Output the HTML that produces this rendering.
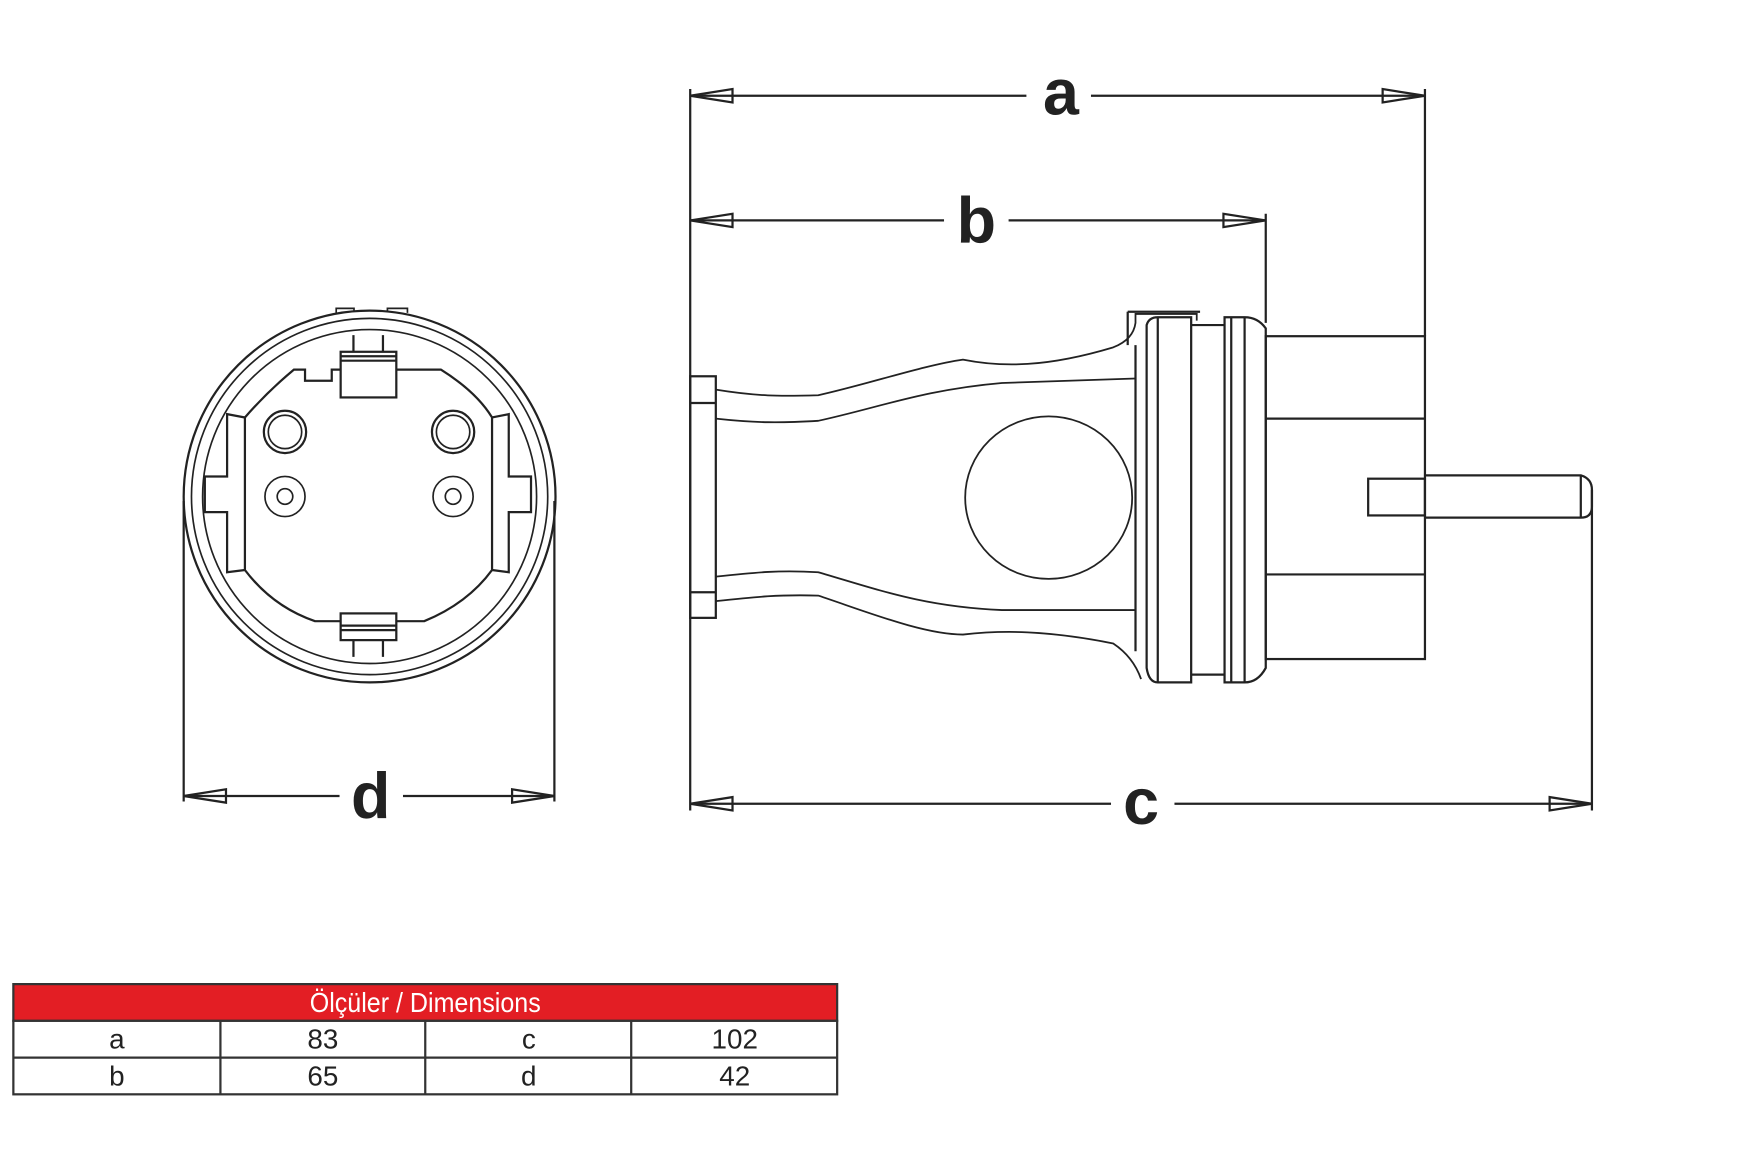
<!DOCTYPE html>
<html><head><meta charset="utf-8"><style>html,body{margin:0;padding:0;background:#fff}svg{display:block}</style></head>
<body>
<svg width="1745" height="1155" viewBox="0 0 1567.5 1037.5" preserveAspectRatio="none" xmlns="http://www.w3.org/2000/svg">
<g fill="none" stroke="#222" stroke-width="2">
<line x1="620" y1="80" x2="620" y2="728"/>
<line x1="1280" y1="80" x2="1280" y2="302"/>
<line x1="1137" y1="192" x2="1137" y2="290"/>
<line x1="1430" y1="440" x2="1430" y2="728"/>
<line x1="165" y1="450" x2="165" y2="720"/>
<line x1="498" y1="450" x2="498" y2="720"/>
<line x1="620" y1="86" x2="922" y2="86"/><line x1="980" y1="86" x2="1280" y2="86"/>
<polygon points="620,86 658,80 658,92"/><polygon points="1280,86 1242,80 1242,92"/>
<line x1="620" y1="198" x2="848" y2="198"/><line x1="906" y1="198" x2="1137" y2="198"/>
<polygon points="620,198 658,192 658,204"/><polygon points="1137,198 1099,192 1099,204"/>
<line x1="620" y1="722" x2="998" y2="722"/><line x1="1055" y1="722" x2="1430" y2="722"/>
<polygon points="620,722 658,716 658,728"/><polygon points="1430,722 1392,716 1392,728"/>
<line x1="165" y1="715" x2="305" y2="715"/><line x1="362" y1="715" x2="498" y2="715"/>
<polygon points="165,715 203,709 203,721"/><polygon points="498,715 460,709 460,721"/>

<circle cx="332" cy="446" r="167"/>
<circle cx="332" cy="446" r="160" stroke-width="1.5"/>
<circle cx="332" cy="446" r="150" stroke-width="1.5"/>
<path d="M302,281 L302,277 L318,277 L318,280 M348,280 L348,277 L366,277 L366,281" stroke-width="1.5"/>
<path d="M317.5,316 L317.5,301 M344,316 L344,301"/>
<rect x="306" y="316" width="50" height="41" fill="#fff"/>
<line x1="306" y1="320" x2="356" y2="320"/><line x1="306" y1="324" x2="356" y2="324"/>
<path d="M306,332 L298,332 L298,342 L274,342 L274,332 L264,332 Q240,352 220,375 L220,512 Q245,545 283,558 L306,558"/>
<path d="M356,332 L396,332 Q428,352 442,375 L442,512 Q420,542 381,558 L356,558"/>
<path d="M220,375 L204,372 L204,428 L184,428 L184,460 L204,460 L204,514 L220,512"/>
<path d="M442,375 L457,372 L457,428 L477,428 L477,460 L457,460 L457,514 L442,512"/>
<rect x="306" y="551" width="50" height="24" fill="#fff"/>
<line x1="306" y1="562" x2="356" y2="562"/><line x1="306" y1="566" x2="356" y2="566"/>
<path d="M317.5,575 L317.5,590 M344,575 L344,590"/>
<circle cx="256" cy="388" r="19"/><circle cx="256" cy="388" r="15" stroke-width="1.5"/>
<circle cx="407" cy="388" r="19"/><circle cx="407" cy="388" r="15" stroke-width="1.5"/>
<circle cx="256" cy="446" r="18" stroke-width="1.5"/><circle cx="256" cy="446" r="7" stroke-width="1.5"/>
<circle cx="407" cy="446" r="18" stroke-width="1.5"/><circle cx="407" cy="446" r="7" stroke-width="1.5"/>

<rect x="620" y="338" width="23" height="217"/>
<line x1="620" y1="362" x2="643" y2="362"/><line x1="620" y1="532" x2="643" y2="532"/>
<path d="M643,350 C680,356 700,356 735,355 C780,345 830,328 865,323 C900,330 940,330 1000,312 Q1018,305 1020,290 L1020,282 L1075,282 L1075,288" stroke-width="1.6"/>
<path d="M643,376 C680,380 700,380 735,378 C790,366 830,350 900,344 L1020,340" stroke-width="1.6"/>
<path d="M643,518 C680,514 700,512 735,514 C790,530 830,545 900,548 L1020,548" stroke-width="1.6"/>
<path d="M643,540 C680,536 700,534 735,535 C780,550 830,570 865,570 C900,566 940,566 1000,578 Q1018,590 1025,610" stroke-width="1.6"/>
<line x1="1013" y1="280" x2="1013" y2="310"/><line x1="1013" y1="280" x2="1078" y2="280"/>
<ellipse cx="942" cy="447" rx="75" ry="73" stroke-width="1.6"/>
<line x1="1020" y1="310" x2="1020" y2="585"/>
<path d="M1030,292 Q1032,285 1040,285 L1070,285 L1070,613 L1040,613 Q1032,613 1030,600 Z"/>
<line x1="1040" y1="285" x2="1040" y2="613"/>
<line x1="1070" y1="292" x2="1100" y2="292"/><line x1="1070" y1="606" x2="1100" y2="606"/>
<path d="M1100,285 L1118,285 Q1130,285 1137,295 L1137,600 Q1130,613 1118,613 L1100,613 Z"/>
<line x1="1106" y1="285" x2="1106" y2="613"/><line x1="1118" y1="285" x2="1118" y2="613"/>
<rect x="1137" y="302" width="143" height="290"/>
<line x1="1137" y1="376" x2="1280" y2="376"/><line x1="1137" y1="516" x2="1280" y2="516"/>
<rect x="1229" y="430" width="51" height="33"/>
<path d="M1280,427 L1420,427 Q1430,430 1430,440 L1430,455 Q1430,465 1420,465 L1280,465"/>
<line x1="1420" y1="427" x2="1420" y2="465"/>
</g>
<g font-family="'Liberation Sans', 'DejaVu Sans', sans-serif" font-weight="bold" fill="#222" text-anchor="middle" font-size="58">
<text x="953" y="103">a</text>
<text x="877" y="218">b</text>
<text x="1025" y="740">c</text>
<text x="333" y="735">d</text>
</g>
<rect x="12" y="884" width="740" height="33" fill="#e31e24" stroke="#333" stroke-width="2"/>
<rect x="12" y="917" width="740" height="66" fill="#fff" stroke="#333" stroke-width="2"/>
<g stroke="#333" stroke-width="2">
<line x1="12" y1="950" x2="752" y2="950"/>
<line x1="198" y1="917" x2="198" y2="983"/><line x1="382" y1="917" x2="382" y2="983"/><line x1="567" y1="917" x2="567" y2="983"/>
</g>
<g font-family="'Liberation Sans', 'DejaVu Sans', sans-serif" text-anchor="middle" font-size="25">
<text x="382" y="909" fill="#fff" transform="translate(382 0) scale(0.9 1) translate(-382 0)">Ölçüler / Dimensions</text>
<g fill="#222">
<text x="105" y="942">a</text><text x="290" y="942">83</text><text x="475" y="942">c</text><text x="660" y="942">102</text>
<text x="105" y="975">b</text><text x="290" y="975">65</text><text x="475" y="975">d</text><text x="660" y="975">42</text>
</g></g>
</svg>
</body></html>
